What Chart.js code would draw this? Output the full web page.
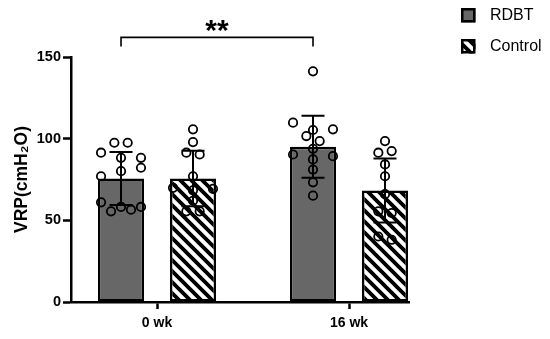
<!DOCTYPE html>
<html><head><meta charset="utf-8">
<script src="https://cdn.jsdelivr.net/npm/chart.js@4/dist/chart.umd.min.js"></script>
<style>html,body{margin:0;padding:0;background:#fff;}</style>
</head><body>
<canvas id="c" width="550" height="339"></canvas>
<script>
// ---- data ----
const categories = ['0 wk', '16 wk'];
const seriesNames = ['RDBT', 'Control'];
const rdbtMean = [75.6, 95.1];
const rdbtSD = [16.2, 19.0];
const controlMean = [75.6, 68.2];
const controlSD = [17.0, 19.6];
const rdbtPoints0wk = [97.5, 97.5, 91.4, 88.3, 88.3, 77.0, 80.1, 82.2, 61.0, 55.5, 58.2, 56.5, 58.2];
const rdbtPoints16wk = [141.2, 109.8, 105.3, 105.7, 101.6, 98.5, 90.3, 93.8, 89.3, 87.3, 81.1, 73.3, 65.1];
const controlPoints0wk = [105.7, 97.9, 91.4, 90.3, 77.0, 69.9, 68.4, 69.3, 62.0, 55.5, 55.5];
const controlPoints16wk = [98.5, 91.4, 92.4, 84.2, 77.0, 66.0, 55.5, 54.5, 40.1, 38.1];
const yTicks = [0, 50, 100, 150];
const sigLabel = '**';
const sigLevel = 162;          // bracket height in axis units
const sigFrom = 0, sigTo = 1;  // RDBT 0 wk vs RDBT 16 wk

// ---- styling / layout constants ----
const FONT = "'Liberation Sans', Arial, Helvetica, sans-serif";
const catPct = 0.75, barPct = 0.64;
const rowThreshold = 6;      // values closer than this share a swarm row
const evenStep = 0.0694;     // swarm step (category units) for even rows
const halfWidth = 0.104;     // swarm half width (category units)

function makeHatch() {
  const s = 11, c = document.createElement('canvas');
  c.width = s; c.height = s;
  const g = c.getContext('2d');
  g.fillStyle = '#fff'; g.fillRect(0, 0, s, s);
  g.strokeStyle = '#000'; g.lineWidth = 3.8;
  g.beginPath();
  g.moveTo(-s, 0); g.lineTo(s, 2 * s);
  g.moveTo(0, 0); g.lineTo(2 * s, 2 * s);
  g.moveTo(0, -s); g.lineTo(2 * s, s);
  g.moveTo(-s, -s); g.lineTo(s, s);
  g.stroke();
  return g.createPattern(c, 'repeat');
}
const ctx = document.getElementById('c').getContext('2d');
const hatch = makeHatch();

function swarm(values, catIndex, groupOffset) {
  const idx = values.map((v, i) => i).sort((a, b) => values[b] - values[a]);
  const rows = [];
  idx.forEach(i => {
    const row = rows[rows.length - 1];
    if (row && values[row[0]] - values[i] < rowThreshold) row.push(i); else rows.push([i]);
  });
  const out = [];
  rows.forEach(row => {
    row.sort((a, b) => a - b);
    const n = row.length;
    const step = n === 1 ? 0 : (n % 2 === 0 ? evenStep : 2 * halfWidth / (n - 1));
    row.forEach((i, k) => out.push({x: catIndex + groupOffset + (k - (n - 1) / 2) * step, y: values[i]}));
  });
  return out;
}
const gOff = catPct / 4;
const rdbtDots = [...swarm(rdbtPoints0wk, 0, -gOff), ...swarm(rdbtPoints16wk, 1, -gOff)];
const controlDots = [...swarm(controlPoints0wk, 0, gOff), ...swarm(controlPoints16wk, 1, gOff)];

const means = [rdbtMean, controlMean], sds = [rdbtSD, controlSD];

const extras = {
  id: 'extras',
  afterDatasetsDraw(chart) {
    const c = chart.ctx, y = chart.scales.y;
    c.save();
    c.strokeStyle = '#000'; c.lineWidth = 2;
    [0, 1].forEach(d => {
      const meta = chart.getDatasetMeta(d);
      meta.data.forEach((bar, j) => {
        const x = bar.x, top = y.getPixelForValue(means[d][j] + sds[d][j]), bot = y.getPixelForValue(means[d][j] - sds[d][j]);
        c.beginPath();
        c.moveTo(x, bot); c.lineTo(x, top);
        c.moveTo(x - 11.5, top); c.lineTo(x + 11.5, top);
        c.moveTo(x - 11.5, bot); c.lineTo(x + 11.5, bot);
        c.stroke();
      });
    });
    c.restore();
  },
  afterDraw(chart) {
    const c = chart.ctx, y = chart.scales.y;
    // significance bracket
    const m = chart.getDatasetMeta(0);
    const x1 = m.data[sigFrom].x, x2 = m.data[sigTo].x, yl = y.getPixelForValue(sigLevel);
    c.save();
    c.strokeStyle = '#000'; c.lineWidth = 1.6;
    c.beginPath();
    c.moveTo(x1, yl + 9); c.lineTo(x1, yl); c.lineTo(x2, yl); c.lineTo(x2, yl + 9);
    c.stroke();
    c.fillStyle = '#000';
    c.font = 'bold 30px ' + FONT;
    c.textAlign = 'center'; c.textBaseline = 'alphabetic';
    const tm = c.measureText(sigLabel);
    const cy = yl - 11.5;
    c.fillText(sigLabel, (x1 + x2) / 2, cy + (tm.actualBoundingBoxAscent - tm.actualBoundingBoxDescent) / 2);
    // legend
    const bx = 461, by = [8, 39], bs = 14.5;
    c.font = '16px ' + FONT; c.textAlign = 'left'; c.textBaseline = 'middle';
    [0, 1].forEach(d => {
      const ds = chart.data.datasets[d];
      c.fillStyle = ds.backgroundColor;
      c.fillRect(bx, by[d], bs, bs);
      c.lineWidth = 2.5; c.strokeStyle = '#000';
      c.strokeRect(bx + 1.25, by[d] + 1.25, bs - 2.5, bs - 2.5);
      c.fillStyle = '#000';
      c.fillText(ds.label, 490, by[d] + bs / 2 + 0.5);
    });
    c.restore();
  }
};

new Chart(ctx, {
  type: 'bar',
  data: {
    datasets: [
      {label: seriesNames[0], data: categories.map((c, i) => ({x: i, y: rdbtMean[i]})), backgroundColor: '#676767', borderColor: '#000', borderWidth: 2.5, borderSkipped: false, order: 2},
      {label: seriesNames[1], data: categories.map((c, i) => ({x: i, y: controlMean[i]})), backgroundColor: hatch, borderColor: '#000', borderWidth: 2.5, borderSkipped: false, order: 2},
      {type: 'scatter', label: seriesNames[0] + ' points', data: rdbtDots, pointRadius: 4.2, borderWidth: 1.8, borderColor: '#000', backgroundColor: 'rgba(0,0,0,0)', order: 1},
      {type: 'scatter', label: seriesNames[1] + ' points', data: controlDots, pointRadius: 4.2, borderWidth: 1.8, borderColor: '#000', backgroundColor: 'rgba(0,0,0,0)', order: 1}
    ]
  },
  options: {
    responsive: false, animation: false, devicePixelRatio: 1,
    categoryPercentage: catPct, barPercentage: barPct,
    layout: {padding: {top: 57, right: 141, bottom: 0, left: 0}},
    plugins: {legend: {display: false}, tooltip: {enabled: false}},
    scales: {
      x: {
        type: 'linear', min: -0.448, max: 1.3125, offset: false,
        afterBuildTicks(s) { s.ticks = categories.map((c, i) => ({value: i})); },
        afterFit(s) { s.height = 37; },
        ticks: {callback: (v) => categories[v], color: '#000', font: {family: FONT, size: 14, weight: 'bold'}, padding: 6, autoSkip: false, maxRotation: 0},
        grid: {offset: false, drawOnChartArea: false, tickLength: 7, tickWidth: 2.5, tickColor: '#000'},
        border: {color: '#000', width: 2.5}
      },
      y: {
        min: 0, max: 150,
        afterBuildTicks(s) { s.ticks = yTicks.map(v => ({value: v})); },
        afterFit(s) { s.width = 71; },
        ticks: {color: '#000', font: {family: FONT, size: 14.5, weight: 'bold'}, padding: 2},
        grid: {drawOnChartArea: false, tickLength: 8, tickWidth: 2.5, tickColor: '#000'},
        border: {color: '#000', width: 2.5},
        title: {display: true, text: 'VRP(cmH₂O)', color: '#000', font: {family: FONT, size: 17.5, weight: 'bold'}, padding: {top: 12, bottom: 0}}
      }
    }
  },
  plugins: [extras]
});
</script>
</body></html>
